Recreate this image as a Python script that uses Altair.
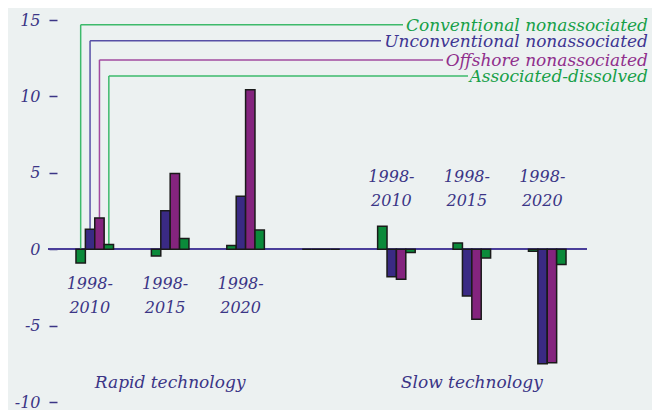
import altair as alt
import pandas as pd

groups = ["R2010", "R2015", "R2020", "gap", "S2010", "S2015", "S2020"]
series = ["Conventional nonassociated", "Unconventional nonassociated",
          "Offshore nonassociated", "Associated-dissolved"]
conv = [-0.9, -0.44, 0.24, 0.0, 1.5, 0.41, -0.13]
unconv = [1.31, 2.51, 3.47, 0.0, -1.81, -3.06, -7.5]
offshore = [2.05, 4.96, 10.43, 0.0, -1.97, -4.59, -7.43]
assoc = [0.3, 0.7, 1.25, 0.0, -0.22, -0.57, -1.0]
period_groups = ["R2010", "R2015", "R2020", "S2010", "S2015", "S2020"]
period_text = ["1998-\n2010", "1998-\n2015", "1998-\n2020", "1998-\n2010", "1998-\n2015", "1998-\n2020"]
period_y = [-2.3, -2.3, -2.3, 4.75, 4.75, 4.75]
tech_groups = ["R2015", "S2015"]
tech_text = ["Rapid technology", "Slow technology"]
legend_levels = [14.69, 13.64, 12.39, 11.34]
yticks = [-10, -5, 0, 5, 10, 15]

fills = ["#0B8A3A", "#3A2A84", "#84247E", "#0B8A3A"]
text_colors = ["#17A048", "#3E3592", "#902F8C", "#17A048"]
line_colors = ["#3DBA6B", "#5750A6", "#A24A9F", "#3DBA6B"]
line_ends = [355, 333, 395, 420]
axis_color = "#3B3586"
bg = "#ECF1F1"
FONT = "DejaVu Serif"

vals = [conv, unconv, offshore, assoc]
bars = pd.DataFrame([
    {"group": g, "series": s, "value": vals[j][i]}
    for j, s in enumerate(series) for i, g in enumerate(groups)
])

leg = pd.DataFrame({
    "group": ["R2010"] * 4,
    "series": series,
    "level": legend_levels,
    "top": [max(v[0], 0) for v in vals],
    "lc": line_colors,
    "tc": text_colors,
})

periods = pd.DataFrame({"group": period_groups, "label": period_text, "y": period_y})
techs = pd.DataFrame({"group": tech_groups, "label": tech_text, "y": [-8.75, -8.75]})

xscale = alt.Scale(domain=groups, paddingInner=0.502, paddingOuter=0.371)
xoff = alt.Scale(domain=series, paddingInner=0, paddingOuter=0)
yscale = alt.Scale(domain=[-10, 15], nice=False, zero=False)

X = alt.X("group:N", scale=xscale, axis=None)
XO = alt.XOffset("series:N", scale=xoff)

bar_layer = alt.Chart(bars).mark_bar(stroke="#1a1a1a", strokeWidth=1.5).encode(
    x=X, xOffset=XO,
    y=alt.Y("value:Q", scale=yscale, axis=alt.Axis(
        values=yticks, domain=False, grid=False, ticks=True, tickSize=8,
        tickColor=axis_color, tickWidth=1.5, offset=-9, labelPadding=9,
        labelExpr="datum.value < 0 ? '-' + abs(datum.value) : '' + datum.value",
        labelFont=FONT, labelFontStyle="italic", labelFontSize=16,
        labelColor=axis_color, title=None)),
    color=alt.Color("series:N", scale=alt.Scale(domain=series, range=fills), legend=None),
)

zero_line = alt.Chart(bars).mark_rule(color="#4A3F9A", strokeWidth=1.5).encode(
    y=alt.datum(0), x=alt.value(0), x2=alt.value(539)
)

vert = alt.Chart(leg).mark_rule(strokeWidth=1.5).encode(
    x=X, xOffset=XO, y=alt.Y("level:Q", scale=yscale), y2="top:Q",
    color=alt.Color("lc:N", scale=None),
)

horiz_layers = []
for i, s in enumerate(series):
    horiz_layers.append(
        alt.Chart(leg[leg["series"] == s]).mark_rule(strokeWidth=1.5).encode(
            x=X, xOffset=XO, x2=alt.value(line_ends[i]),
            y=alt.Y("level:Q", scale=yscale),
            color=alt.Color("lc:N", scale=None),
        )
    )

leg_text = alt.Chart(leg).mark_text(
    align="right", baseline="middle", font=FONT, fontStyle="italic", fontSize=17, dy=1
).encode(
    x=alt.value(600), y=alt.Y("level:Q", scale=yscale), text="series:N",
    color=alt.Color("tc:N", scale=None),
)

period_layer = alt.Chart(periods).mark_text(
    align="center", baseline="middle", font=FONT, fontStyle="italic", fontSize=16,
    lineBreak="\n", lineHeight=24, color=axis_color, dx=-5
).encode(x=X, y=alt.Y("y:Q", scale=yscale), text="label:N")

tech_layer = alt.Chart(techs).mark_text(
    align="center", baseline="middle", font=FONT, fontStyle="italic", fontSize=17,
    color=axis_color, dx=0
).encode(x=X, y=alt.Y("y:Q", scale=yscale), text="label:N")

chart = alt.layer(
    zero_line, vert, *horiz_layers, bar_layer, leg_text, period_layer, tech_layer
).properties(
    width=546, height=382,
    autosize=alt.AutoSizeParams(type="none"),
    padding={"left": 40, "top": 12, "right": 58, "bottom": 8},
    background=bg,
).configure_view(stroke=None)

chart.save("out.html", embed_options={"renderer": "svg", "actions": False})
